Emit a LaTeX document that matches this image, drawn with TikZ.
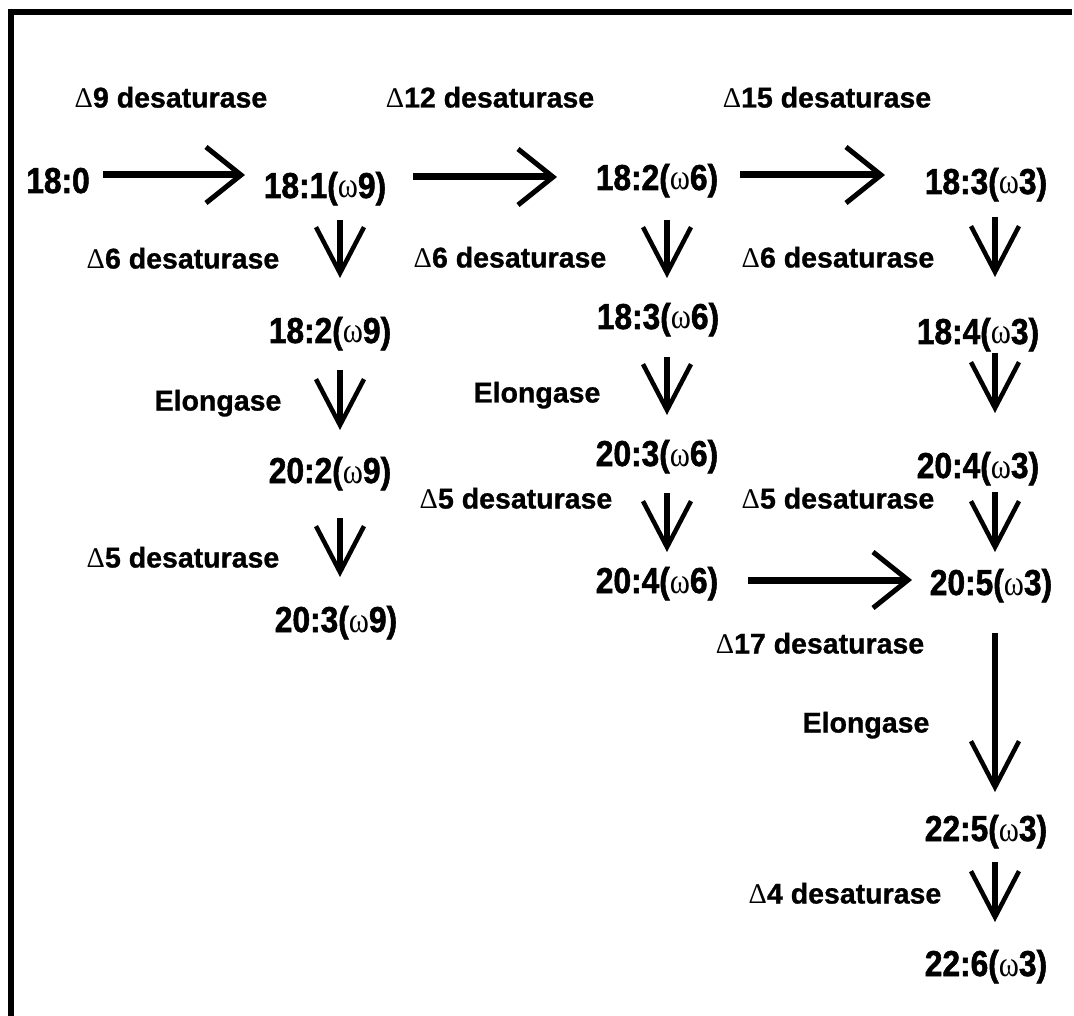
\documentclass[tikz,border=0pt]{standalone}
\usepackage{fontspec}
\setmainfont{Liberation Sans}[FakeBold=1]
\newfontfamily\cmpfont{Liberation Sans}[FakeStretch=0.88,FakeBold=1.5]
\newfontfamily\gkfont{Liberation Serif}
\newfontfamily\gkcfont{Liberation Serif}[FakeStretch=0.85]
\usetikzlibrary{arrows.meta,calc}
\newcommand{\om}{{\gkcfont\mdseries ω}}
\newcommand{\De}{{\gkfont\mdseries Δ}}
\tikzset{
  cmp/.style={inner sep=0pt, text height=26pt, text depth=0pt, font=\cmpfont\bfseries\fontsize{36}{36}\selectfont},
  lab/.style={inner sep=0pt, text height=21pt, text depth=0pt, font=\bfseries\fontsize{28.5}{28.5}\selectfont},
  harrow/.style={line width=7pt, -{Straight Barb[length=35pt,width=56pt,line width=5pt]}},
  varrow/.style={line width=6.5pt, -{Straight Barb[length=46pt,width=48pt,line width=4.5pt]}},
  frame/.style={line width=6.5pt, line join=miter}
}
\begin{document}
\begin{tikzpicture}[x=1pt,y=-1pt]
\useasboundingbox (0,0) rectangle (1074,1016);
\draw[frame] (1072,12) -- (11,12) -- (11,1016);

% compounds
\node[cmp] (n180)   at (58,180)  {18:0};
\node[cmp] (n181)   at (325,185) {18:1(\om9)};
\node[cmp] (n182w9) at (330,330) {18:2(\om9)};
\node[cmp] (n202w9) at (330,470) {20:2(\om9)};
\node[cmp] (n203w9) at (336,619) {20:3(\om9)};
\node[cmp] (n182w6) at (657,177) {18:2(\om6)};
\node[cmp] (n183w6) at (658,316) {18:3(\om6)};
\node[cmp] (n203w6) at (657,453) {20:3(\om6)};
\node[cmp] (n204w6) at (657,580) {20:4(\om6)};
\node[cmp] (n183w3) at (986,181) {18:3(\om3)};
\node[cmp] (n184w3) at (978,331) {18:4(\om3)};
\node[cmp] (n204w3) at (978,465) {20:4(\om3)};
\node[cmp] (n205w3) at (991,582) {20:5(\om3)};
\node[cmp] (n225w3) at (986,828) {22:5(\om3)};
\node[cmp] (n226w3) at (986,963) {22:6(\om3)};

% enzyme labels
\node[lab] (l9)  at (171,97)  {\De9 desaturase};
\node[lab] (l12) at (490,97)  {\De12 desaturase};
\node[lab] (l15) at (827,97)  {\De15 desaturase};
\node[lab] (l6a) at (183,258) {\De6 desaturase};
\node[lab] (lEa) at (218,400) {Elongase};
\node[lab] (l5a) at (183,557) {\De5 desaturase};
\node[lab] (l6b) at (510,257) {\De6 desaturase};
\node[lab] (lEb) at (537,392) {Elongase};
\node[lab] (l5b) at (516,498) {\De5 desaturase};
\node[lab] (l6c) at (838,257) {\De6 desaturase};
\node[lab] (l5c) at (838,498) {\De5 desaturase};
\node[lab] (l17) at (820,643) {\De17 desaturase};
\node[lab] (lEc) at (866,722) {Elongase};
\node[lab] (l4)  at (845,893) {\De4 desaturase};

% column guides
\coordinate (c1) at (340,0);
\coordinate (c2) at (667,0);
\coordinate (c3) at (995,0);

% horizontal arrows
\draw[harrow] ($(n180.center)+(45,-5)$) -- ($(n181.center)+(-80,-10)$);
\draw[harrow] ($(n181.center)+(88,-8)$) -- ($(n182w6.center)+(-100,0)$);
\draw[harrow] ($(n182w6.center)+(83,-2)$) -- ($(n183w3.center)+(-101,-6)$);
\draw[harrow] ($(n204w6.center)+(91,0)$) -- ($(n205w3.center)+(-79,-2)$);

% vertical arrows
\draw[varrow] ($(n181.center -| c1)+(0,35)$)   -- ($(n182w9.center -| c1)+(0,-52)$);
\draw[varrow] ($(n182w9.center -| c1)+(0,40)$) -- ($(n202w9.center -| c1)+(0,-40)$);
\draw[varrow] ($(n202w9.center -| c1)+(0,48)$) -- ($(n203w9.center -| c1)+(0,-42)$);
\draw[varrow] ($(n182w6.center -| c2)+(0,43)$) -- ($(n183w6.center -| c2)+(0,-38)$);
\draw[varrow] ($(n183w6.center -| c2)+(0,41)$) -- ($(n203w6.center -| c2)+(0,-38)$);
\draw[varrow] ($(n203w6.center -| c2)+(0,40)$) -- ($(n204w6.center -| c2)+(0,-28)$);
\draw[varrow] ($(n183w3.center -| c3)+(0,36)$) -- ($(n184w3.center -| c3)+(0,-54)$);
\draw[varrow] ($(n184w3.center -| c3)+(0,22)$) -- ($(n204w3.center -| c3)+(0,-52)$);
\draw[varrow] ($(n204w3.center -| c3)+(0,27)$) -- ($(n205w3.center -| c3)+(0,-30)$);
\draw[varrow] ($(n205w3.center -| c3)+(0,51)$) -- ($(n225w3.center -| c3)+(0,-36)$);
\draw[varrow] ($(n225w3.center -| c3)+(0,34)$) -- ($(n226w3.center -| c3)+(0,-41)$);
\end{tikzpicture}
\end{document}
